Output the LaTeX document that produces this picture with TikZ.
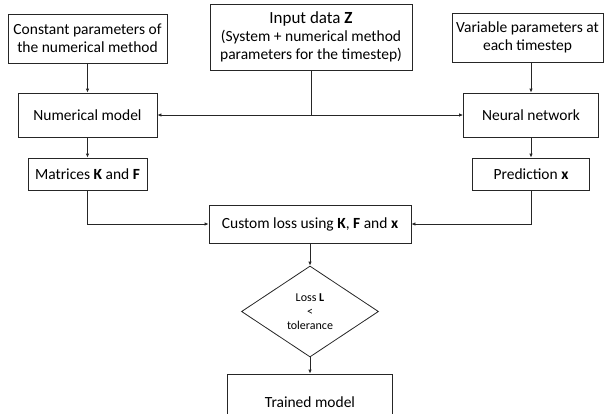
\documentclass[tikz,border=0pt]{standalone}
\usepackage{fontspec}
\setmainfont{Carlito}
\usetikzlibrary{shapes.geometric,arrows.meta}
\begin{document}
\begin{tikzpicture}[x=1pt,y=-1pt,
  box/.style={draw=black!85,line width=0.8pt,inner sep=0pt,align=center,
    font=\fontsize{15.5}{18}\selectfont},
  dia/.style={draw=black!85,line width=0.8pt,shape=diamond,inner sep=0pt,align=center,
    font=\fontsize{12}{14}\selectfont},
  arr/.style={draw=black!85,line width=0.8pt,-{Latex[length=4pt,width=3.5pt]}}]
\useasboundingbox (0,0) rectangle (606,413);
\clip (0,0) rectangle (606,413);
\node[box,minimum width=159pt,minimum height=49pt] (const) at (87.5,38.5)
  {Constant parameters of\\the numerical method};
\node[box,minimum width=202pt,minimum height=66pt] (input) at (311,37)
  {{\fontsize{17}{20}\selectfont Input data \textbf{Z}}\\(System + numerical method\\parameters for the timestep)};
\node[box,minimum width=151pt,minimum height=49pt] (var) at (527.5,37.5)
  {Variable parameters at\\each timestep};
\node[box,minimum width=139pt,minimum height=44pt] (num) at (87.5,115) {Numerical model};
\node[box,minimum width=135pt,minimum height=44pt] (nn) at (531,115) {Neural network};
\node[box,minimum width=119pt,minimum height=32pt] (mat) at (87.5,174)
  {Matrices \textbf{K} and \textbf{F}};
\node[box,minimum width=117pt,minimum height=32pt] (pred) at (531,174)
  {Prediction \textbf{x}};
\node[box,minimum width=202pt,minimum height=38pt] (loss) at (310,224)
  {Custom loss using \textbf{K}, \textbf{F} and \textbf{x}};
\node[dia,minimum width=137pt,minimum height=91pt] (dec) at (310,311.5)
  {Loss \textbf{L}\\\textless\\tolerance};
\node[box,minimum width=165pt,minimum height=56pt] (trained) at (310,402) {Trained model};
\draw[arr] (const) -- (num);
\draw[arr] (nn.north |- var.south) -- (nn.north);
\draw[arr] (input.south) |- (num.east);
\draw[arr] (input.south) |- (nn.west);
\draw[arr] (num) -- (mat);
\draw[arr] (nn) -- (pred);
\draw[arr] (mat.south) |- (loss.west);
\draw[arr] (pred.south) |- (loss.east);
\draw[arr] (loss) -- (dec);
\draw[arr] (dec) -- (trained);
\end{tikzpicture}
\end{document}
